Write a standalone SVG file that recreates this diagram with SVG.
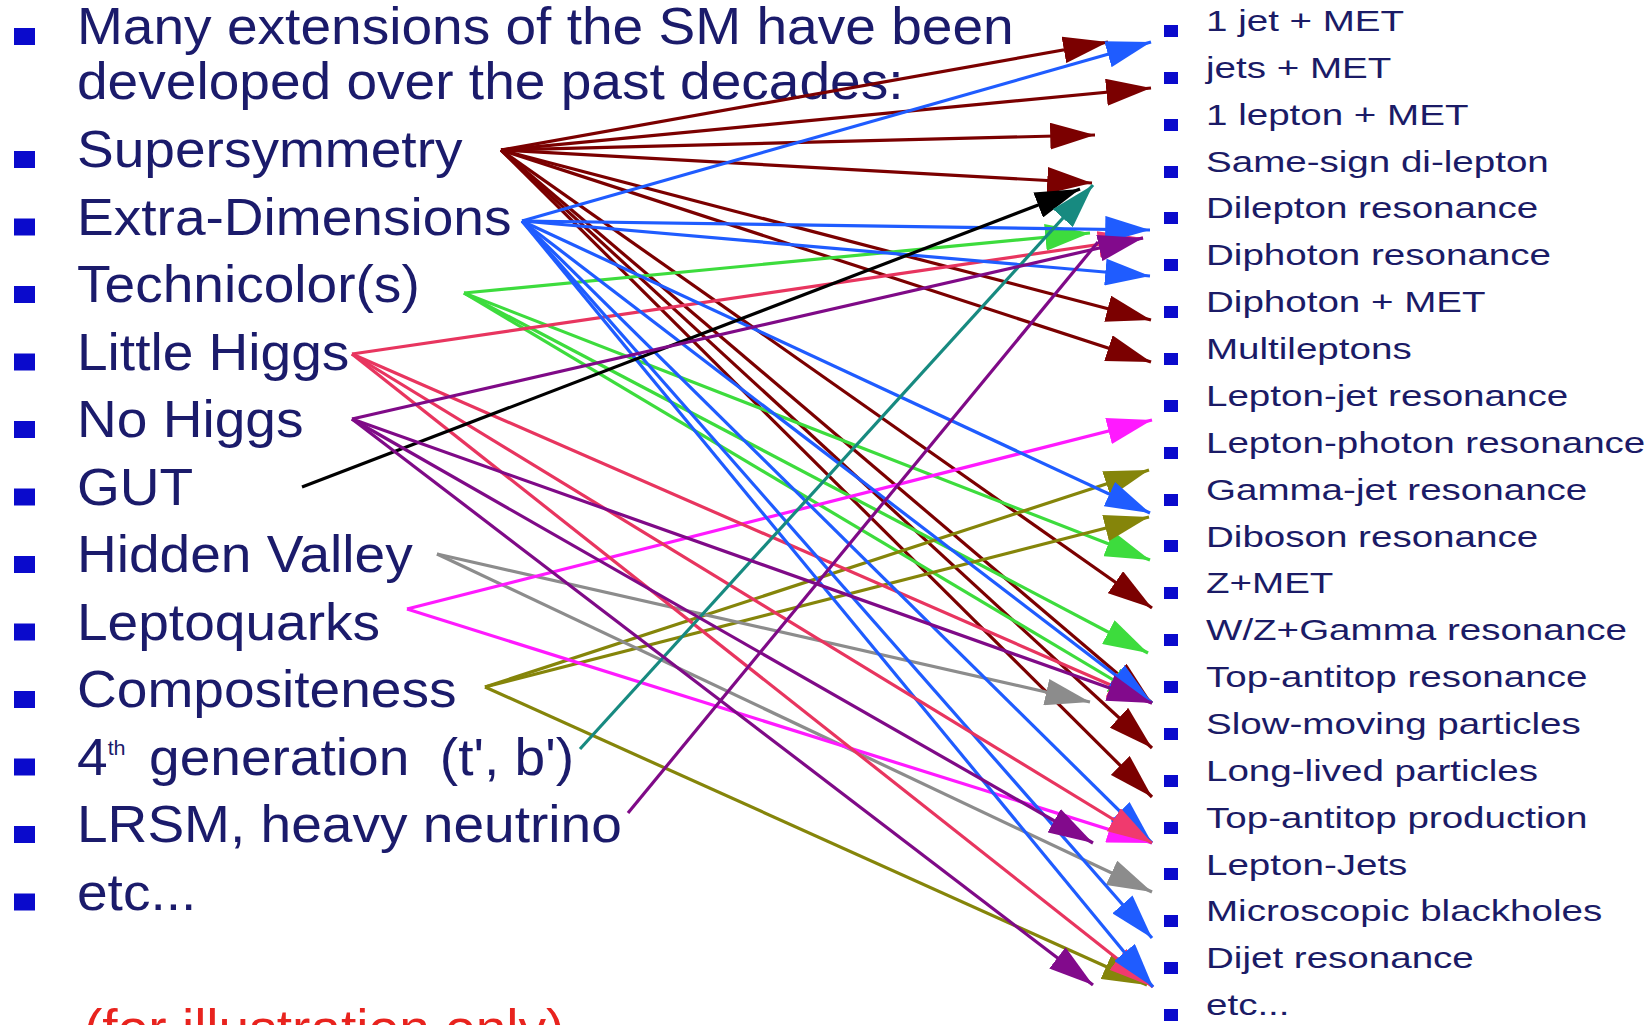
<svg xmlns="http://www.w3.org/2000/svg" width="1646" height="1025" viewBox="0 0 1646 1025">
<style>
.lt{font-family:"Liberation Sans",Arial,sans-serif;font-size:51px;fill:#1b1b6b}
.rt{font-family:"Liberation Sans",Arial,sans-serif;font-size:30px;fill:#1b1b66}
.note{font-family:"Liberation Sans",Arial,sans-serif;font-size:51px;fill:#e8231e}
.lb{fill:#0a0acc}
.c line{stroke-width:3.2;fill:none}
.red{stroke:#7b0000;marker-end:url(#m-red)}
.blue{stroke:#1f5cff;marker-end:url(#m-blue)}
.green{stroke:#3ddc3d;marker-end:url(#m-green)}
.crim{stroke:#e8355f;marker-end:url(#m-crim)}
.purp{stroke:#7f0a87;marker-end:url(#m-purp)}
.purp-plain{stroke:#7f0a87}
.black{stroke:#000;marker-end:url(#m-black)}
.teal{stroke:#178a80;marker-end:url(#m-teal)}
.gray{stroke:#8c8c8c;marker-end:url(#m-gray)}
.mag{stroke:#ff1aff;marker-end:url(#m-mag)}
.olive{stroke:#85850a;marker-end:url(#m-olive)}
</style>
<defs>
<marker id="m-red" viewBox="0 0 15 9" refX="15" refY="4.5" markerWidth="14" markerHeight="8.4" orient="auto" markerUnits="strokeWidth"><path d="M0,0L15,4.5L0,9z" fill="#7b0000"/></marker>
<marker id="m-blue" viewBox="0 0 15 9" refX="15" refY="4.5" markerWidth="14" markerHeight="8.4" orient="auto" markerUnits="strokeWidth"><path d="M0,0L15,4.5L0,9z" fill="#1f5cff"/></marker>
<marker id="m-green" viewBox="0 0 15 9" refX="15" refY="4.5" markerWidth="14" markerHeight="8.4" orient="auto" markerUnits="strokeWidth"><path d="M0,0L15,4.5L0,9z" fill="#3ddc3d"/></marker>
<marker id="m-crim" viewBox="0 0 15 9" refX="15" refY="4.5" markerWidth="14" markerHeight="8.4" orient="auto" markerUnits="strokeWidth"><path d="M0,0L15,4.5L0,9z" fill="#f03a6e"/></marker>
<marker id="m-purp" viewBox="0 0 15 9" refX="15" refY="4.5" markerWidth="14" markerHeight="8.4" orient="auto" markerUnits="strokeWidth"><path d="M0,0L15,4.5L0,9z" fill="#820a8c"/></marker>
<marker id="m-black" viewBox="0 0 15 9" refX="15" refY="4.5" markerWidth="14" markerHeight="8.4" orient="auto" markerUnits="strokeWidth"><path d="M0,0L15,4.5L0,9z" fill="#000"/></marker>
<marker id="m-teal" viewBox="0 0 15 9" refX="15" refY="4.5" markerWidth="14" markerHeight="8.4" orient="auto" markerUnits="strokeWidth"><path d="M0,0L15,4.5L0,9z" fill="#178a80"/></marker>
<marker id="m-gray" viewBox="0 0 15 9" refX="15" refY="4.5" markerWidth="14" markerHeight="8.4" orient="auto" markerUnits="strokeWidth"><path d="M0,0L15,4.5L0,9z" fill="#8c8c8c"/></marker>
<marker id="m-mag" viewBox="0 0 15 9" refX="15" refY="4.5" markerWidth="14" markerHeight="8.4" orient="auto" markerUnits="strokeWidth"><path d="M0,0L15,4.5L0,9z" fill="#ff1aff"/></marker>
<marker id="m-olive" viewBox="0 0 15 9" refX="15" refY="4.5" markerWidth="14" markerHeight="8.4" orient="auto" markerUnits="strokeWidth"><path d="M0,0L15,4.5L0,9z" fill="#85850a"/></marker>
</defs>
<rect width="1646" height="1025" fill="#fff"/>

<g id="intro">
<rect class="lb" x="14" y="28" width="21" height="17"/>
<text class="lt" transform="translate(77 44) scale(1.08 1)">Many extensions of the SM have been</text>
<text class="lt" transform="translate(77 98.5) scale(1.08 1)">developed over the past decades:</text>
</g>

<g id="src-susy"><rect class="lb" x="14" y="151" width="21" height="17"/><text class="lt" transform="translate(77 167) scale(1.08 1)">Supersymmetry</text></g>
<g id="src-ed"><rect class="lb" x="14" y="218.5" width="21" height="17"/><text class="lt" transform="translate(77 234.5) scale(1.08 1)">Extra-Dimensions</text></g>
<g id="src-tc"><rect class="lb" x="14" y="286" width="21" height="17"/><text class="lt" transform="translate(77 302) scale(1.08 1)">Technicolor(s)</text></g>
<g id="src-lh"><rect class="lb" x="14" y="353.5" width="21" height="17"/><text class="lt" transform="translate(77 369.5) scale(1.08 1)">Little Higgs</text></g>
<g id="src-nh"><rect class="lb" x="14" y="421" width="21" height="17"/><text class="lt" transform="translate(77 437) scale(1.08 1)">No Higgs</text></g>
<g id="src-gut"><rect class="lb" x="14" y="488.5" width="21" height="17"/><text class="lt" transform="translate(77 504.5) scale(1.08 1)">GUT</text></g>
<g id="src-hv"><rect class="lb" x="14" y="556" width="21" height="17"/><text class="lt" transform="translate(77 572) scale(1.08 1)">Hidden Valley</text></g>
<g id="src-lq"><rect class="lb" x="14" y="623.5" width="21" height="17"/><text class="lt" transform="translate(77 639.5) scale(1.08 1)">Leptoquarks</text></g>
<g id="src-comp"><rect class="lb" x="14" y="691" width="21" height="17"/><text class="lt" transform="translate(77 707) scale(1.08 1)">Compositeness</text></g>
<g id="src-4th"><rect class="lb" x="14" y="758.5" width="21" height="17"/><text class="lt" transform="translate(77 774.5) scale(1.08 1)">4<tspan font-size="20" dy="-20">th</tspan><tspan x="66.7" dy="20">generation</tspan><tspan x="336">(t', b')</tspan></text></g>
<g id="src-lrsm"><rect class="lb" x="14" y="826" width="21" height="17"/><text class="lt" transform="translate(77 842) scale(1.08 1)">LRSM, heavy neutrino</text></g>
<g id="src-etc"><rect class="lb" x="14" y="893.5" width="21" height="17"/><text class="lt" transform="translate(77 909.5) scale(1.08 1)">etc...</text></g>
<g id="note"><text class="note" transform="translate(84 1046) scale(1.08 1)">(for illustration only)</text></g>

<g id="targets">
<g id="t-1jet"><rect class="lb" x="1164" y="25" width="14" height="12"/><text class="rt" transform="translate(1206 31) scale(1.285 1)">1 jet + MET</text></g>
<g id="t-jets"><rect class="lb" x="1164" y="72" width="14" height="12"/><text class="rt" transform="translate(1206 77.9) scale(1.285 1)">jets + MET</text></g>
<g id="t-1lep"><rect class="lb" x="1164" y="119" width="14" height="12"/><text class="rt" transform="translate(1206 124.7) scale(1.285 1)">1 lepton + MET</text></g>
<g id="t-ss"><rect class="lb" x="1164" y="166" width="14" height="12"/><text class="rt" transform="translate(1206 171.6) scale(1.285 1)">Same-sign di-lepton</text></g>
<g id="t-dilep"><rect class="lb" x="1164" y="212" width="14" height="12"/><text class="rt" transform="translate(1206 218.4) scale(1.285 1)">Dilepton resonance</text></g>
<g id="t-diphres"><rect class="lb" x="1164" y="259" width="14" height="12"/><text class="rt" transform="translate(1206 265.3) scale(1.285 1)">Diphoton resonance</text></g>
<g id="t-diphmet"><rect class="lb" x="1164" y="306" width="14" height="12"/><text class="rt" transform="translate(1206 312.2) scale(1.285 1)">Diphoton + MET</text></g>
<g id="t-multi"><rect class="lb" x="1164" y="353" width="14" height="12"/><text class="rt" transform="translate(1206 359) scale(1.285 1)">Multileptons</text></g>
<g id="t-ljres"><rect class="lb" x="1164" y="400" width="14" height="12"/><text class="rt" transform="translate(1206 405.9) scale(1.285 1)">Lepton-jet resonance</text></g>
<g id="t-lgres"><rect class="lb" x="1164" y="447" width="14" height="12"/><text class="rt" transform="translate(1206 452.7) scale(1.285 1)">Lepton-photon resonance</text></g>
<g id="t-gjres"><rect class="lb" x="1164" y="494" width="14" height="12"/><text class="rt" transform="translate(1206 499.6) scale(1.285 1)">Gamma-jet resonance</text></g>
<g id="t-dibos"><rect class="lb" x="1164" y="540" width="14" height="12"/><text class="rt" transform="translate(1206 546.5) scale(1.285 1)">Diboson resonance</text></g>
<g id="t-zmet"><rect class="lb" x="1164" y="587" width="14" height="12"/><text class="rt" transform="translate(1206 593.3) scale(1.285 1)">Z+MET</text></g>
<g id="t-wzg"><rect class="lb" x="1164" y="634" width="14" height="12"/><text class="rt" transform="translate(1206 640.2) scale(1.285 1)">W/Z+Gamma resonance</text></g>
<g id="t-ttres"><rect class="lb" x="1164" y="681" width="14" height="12"/><text class="rt" transform="translate(1206 687) scale(1.285 1)">Top-antitop resonance</text></g>
<g id="t-slow"><rect class="lb" x="1164" y="728" width="14" height="12"/><text class="rt" transform="translate(1206 733.9) scale(1.285 1)">Slow-moving particles</text></g>
<g id="t-long"><rect class="lb" x="1164" y="775" width="14" height="12"/><text class="rt" transform="translate(1206 780.8) scale(1.285 1)">Long-lived particles</text></g>
<g id="t-ttprod"><rect class="lb" x="1164" y="822" width="14" height="12"/><text class="rt" transform="translate(1206 827.6) scale(1.285 1)">Top-antitop production</text></g>
<g id="t-ljets"><rect class="lb" x="1164" y="868" width="14" height="12"/><text class="rt" transform="translate(1206 874.5) scale(1.285 1)">Lepton-Jets</text></g>
<g id="t-mbh"><rect class="lb" x="1164" y="915" width="14" height="12"/><text class="rt" transform="translate(1206 921.3) scale(1.285 1)">Microscopic blackholes</text></g>
<g id="t-dijet"><rect class="lb" x="1164" y="962" width="14" height="12"/><text class="rt" transform="translate(1206 968.2) scale(1.285 1)">Dijet resonance</text></g>
<g id="t-etc"><rect class="lb" x="1164" y="1009" width="14" height="12"/><text class="rt" transform="translate(1206 1015) scale(1.285 1)">etc...</text></g>
</g>

<g id="connectors" class="c">
<line class="red" x1="501" y1="150" x2="1108" y2="42"/>
<line class="red" x1="501" y1="150" x2="1151" y2="88"/>
<line class="red" x1="501" y1="150" x2="1095" y2="135"/>
<line class="red" x1="501" y1="150" x2="1092" y2="183"/>
<line class="red" x1="501" y1="150" x2="1151" y2="320"/>
<line class="red" x1="501" y1="150" x2="1151" y2="362"/>
<line class="red" x1="501" y1="150" x2="1152" y2="608"/>
<line class="red" x1="501" y1="150" x2="1152" y2="703"/>
<line class="red" x1="501" y1="150" x2="1152" y2="748"/>
<line class="red" x1="501" y1="150" x2="1152" y2="797"/>
<line class="green" x1="464" y1="293" x2="1090" y2="233"/>
<line class="green" x1="464" y1="293" x2="1150" y2="560"/>
<line class="green" x1="464" y1="293" x2="1148" y2="653"/>
<line class="green" x1="464" y1="293" x2="1152" y2="703"/>
<line class="olive" x1="485" y1="687" x2="1149" y2="470"/>
<line class="olive" x1="485" y1="687" x2="1149" y2="517"/>
<line class="olive" x1="485" y1="687" x2="1147" y2="985"/>
<line class="gray" x1="437" y1="554" x2="1090" y2="702"/>
<line class="gray" x1="437" y1="554" x2="1152" y2="892"/>
<line class="mag" x1="407" y1="609" x2="1152" y2="420"/>
<line class="mag" x1="407" y1="609" x2="1152" y2="843"/>
<line class="crim" x1="352" y1="354" x2="1143" y2="238"/>
<line class="crim" x1="352" y1="354" x2="1152" y2="703"/>
<line class="crim" x1="352" y1="354" x2="1153" y2="987"/>
<line class="blue" x1="522" y1="221" x2="1151" y2="42"/>
<line class="blue" x1="522" y1="221" x2="1150" y2="230"/>
<line class="blue" x1="522" y1="221" x2="1150" y2="276"/>
<line class="blue" x1="522" y1="221" x2="1150" y2="513"/>
<line class="blue" x1="522" y1="221" x2="1152" y2="703"/>
<line class="blue" x1="522" y1="221" x2="1152" y2="843"/>
<line class="blue" x1="522" y1="221" x2="1152" y2="938"/>
<line class="blue" x1="522" y1="221" x2="1153" y2="987"/>
<line class="crim" x1="352" y1="354" x2="1152" y2="843"/>
<line class="black" x1="302" y1="487" x2="1080" y2="189"/>
<line class="teal" x1="580" y1="749" x2="1093" y2="185"/>
<line class="purp-plain" x1="628" y1="813" x2="1098" y2="242"/>
<line class="purp" x1="352" y1="419" x2="1143" y2="238"/>
<line class="purp" x1="352" y1="419" x2="1152" y2="703"/>
<line class="purp" x1="352" y1="419" x2="1093" y2="843"/>
<line class="purp" x1="352" y1="419" x2="1093" y2="985"/>
</g>
</svg>
